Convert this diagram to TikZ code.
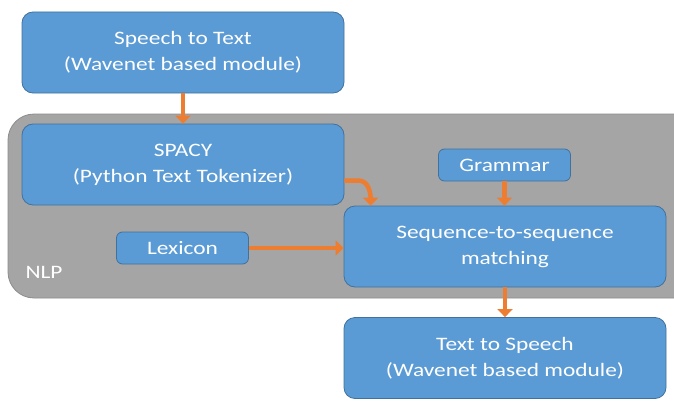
\documentclass[tikz,border=0pt]{standalone}
\usepackage{fontspec}
\setmainfont{Carlito}[FakeStretch=1.23]
\usetikzlibrary{arrows.meta}

\definecolor{boxblue}{HTML}{5B9BD5}
\definecolor{boxedge}{HTML}{41719C}
\definecolor{nlpgray}{HTML}{A5A5A5}
\definecolor{nlpedge}{HTML}{8C8C8C}
\definecolor{arroworange}{HTML}{ED7D31}

\tikzset{
    block/.style={draw=boxedge, line width=0.8pt, fill=boxblue, rounded corners=11pt,
        text=white, align=center, font=\fontsize{19}{26}\selectfont,
        minimum width=322pt, minimum height=81pt, inner sep=0pt},
    smallblock/.style={block, rounded corners=6pt, minimum width=132pt, minimum height=32pt},
    flow/.style={draw=arroworange, line width=4.5pt, -{Triangle[length=8pt,width=15pt]}}
}

\begin{document}
\begin{tikzpicture}[x=1pt,y=1pt]
                \useasboundingbox (0,0) rectangle (674,400);
                \draw[draw=nlpedge, fill=nlpgray, line width=0.8pt, rounded corners=26pt] (8,286) rectangle (700,102);
                \node[text=white, font=\fontsize{19}{26}\selectfont] (nlp) at (44,128) {NLP};

                \node[block] (stt) at (183,347.5) {Speech to Text\\(Wavenet based module)};
                \node[block] (spacy) at (183,235.5) {SPACY\\(Python Text Tokenizer)};
                \node[smallblock] (grammar) at (504.5,235) {Grammar};
                \node[smallblock] (lexicon) at (182.5,152) {Lexicon};
                \node[block] (seq) at (505,153.5) {Sequence-to-sequence\\matching};
                \node[block] (tts) at (505,42) {Text to Speech\\(Wavenet based module)};

                \draw[flow] (stt) to (spacy);
                \draw[flow] ([yshift=-16pt]spacy.east) -- ++(14,0) to[out=0,in=90] ([xshift=27pt]seq.north west);
                \draw[flow] (grammar) to (grammar |- seq.north);
                \draw[flow] (lexicon) to (lexicon -| seq.west);
                \draw[flow] (seq) to (tts);
            \end{tikzpicture}
\end{document}
